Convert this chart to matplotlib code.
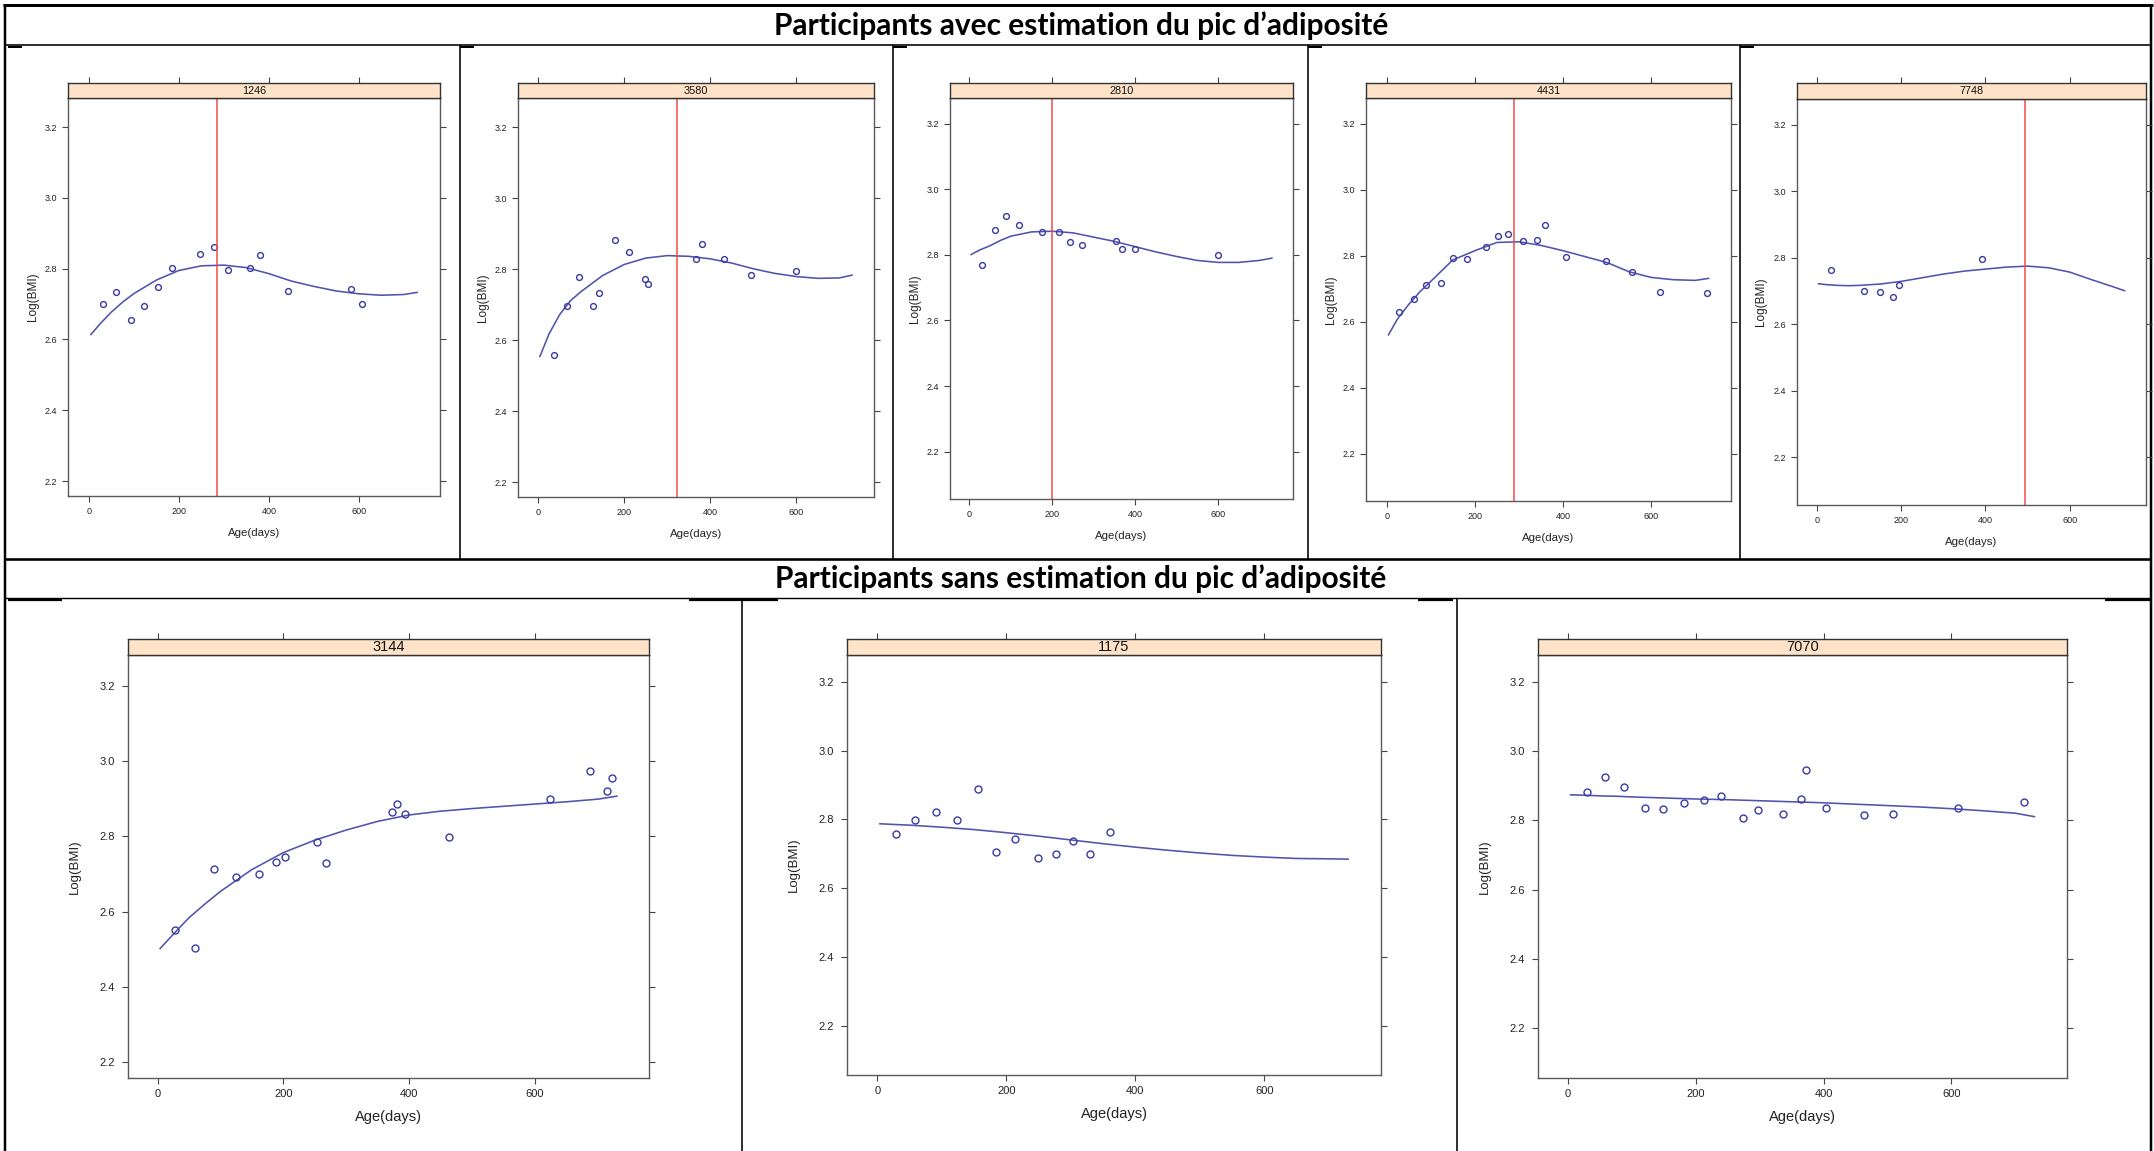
import matplotlib
matplotlib.use("Agg")
import matplotlib.pyplot as plt
from matplotlib.lines import Line2D

W, H, DPI = 2154, 1151, 100

# --- data -------------------------------------------------------------
title_top = "Participants avec estimation du pic d\u2019adiposité"
title_bottom = "Participants sans estimation du pic d\u2019adiposité"

ids = ["1246", "3580", "2810", "4431", "7748", "3144", "1175", "7070"]
# age at the estimated adiposity peak (top row only)
peak_age = {"1246": 285, "3580": 322, "2810": 199, "4431": 289, "7748": 495}

# ages at which the fitted curves were evaluated
fit_age = [4, 25, 50, 75, 100, 150, 200, 250, 300, 350, 400, 450, 500, 550, 600, 650, 700, 730]

age_1246 = [32, 60, 94, 122, 153, 185, 247, 278, 310, 359, 381, 443, 584, 608]
bmi_1246 = [2.700, 2.734, 2.654, 2.695, 2.749, 2.803, 2.842, 2.860, 2.795, 2.803, 2.840, 2.737, 2.744, 2.700]
fit_1246 = [2.614, 2.645, 2.678, 2.706, 2.730, 2.768, 2.795, 2.808, 2.810, 2.803, 2.786, 2.765,
            2.750, 2.737, 2.729, 2.725, 2.727, 2.733]

age_3580 = [37, 66, 96, 128, 142, 178, 212, 248, 256, 366, 382, 432, 495, 599]
bmi_3580 = [2.557, 2.697, 2.777, 2.696, 2.732, 2.883, 2.849, 2.772, 2.758, 2.829, 2.870, 2.828, 2.784, 2.795]
fit_3580 = [2.554, 2.617, 2.672, 2.711, 2.737, 2.782, 2.813, 2.831, 2.838, 2.836, 2.829, 2.817,
            2.801, 2.788, 2.779, 2.774, 2.775, 2.783]

age_2810 = [30, 61, 88, 120, 176, 216, 243, 271, 353, 368, 399, 600]
bmi_2810 = [2.768, 2.876, 2.918, 2.890, 2.871, 2.871, 2.840, 2.831, 2.841, 2.819, 2.819, 2.799]
fit_2810 = [2.801, 2.815, 2.828, 2.844, 2.857, 2.870, 2.872, 2.867, 2.854, 2.841, 2.825, 2.809,
            2.795, 2.783, 2.777, 2.777, 2.783, 2.790]

age_4431 = [28, 62, 89, 123, 151, 182, 225, 253, 275, 309, 341, 359, 407, 497, 556, 621, 727]
bmi_4431 = [2.630, 2.668, 2.711, 2.717, 2.792, 2.789, 2.826, 2.859, 2.865, 2.844, 2.846, 2.894,
            2.797, 2.784, 2.749, 2.689, 2.686]
fit_4431 = [2.560, 2.609, 2.652, 2.690, 2.722, 2.787, 2.815, 2.840, 2.842, 2.831, 2.815, 2.797,
            2.779, 2.751, 2.734, 2.727, 2.725, 2.731]

age_7748 = [33, 112, 149, 181, 195, 392]
bmi_7748 = [2.762, 2.701, 2.697, 2.681, 2.717, 2.797]
fit_7748 = [2.722, 2.719, 2.717, 2.716, 2.717, 2.721, 2.729, 2.740, 2.751, 2.760, 2.766, 2.772,
            2.775, 2.770, 2.757, 2.735, 2.714, 2.701]

age_3144 = [28, 60, 90, 125, 161, 189, 202, 253, 268, 373, 380, 393, 463, 624, 687, 714, 722]
bmi_3144 = [2.550, 2.504, 2.713, 2.692, 2.701, 2.732, 2.746, 2.786, 2.729, 2.866, 2.887, 2.860,
            2.799, 2.900, 2.973, 2.921, 2.956]
fit_3144 = [2.502, 2.540, 2.584, 2.620, 2.654, 2.712, 2.757, 2.790, 2.817, 2.840, 2.857, 2.867,
            2.874, 2.880, 2.886, 2.892, 2.899, 2.907]

age_1175 = [29, 58, 91, 123, 156, 184, 214, 249, 277, 304, 330, 361]
bmi_1175 = [2.757, 2.798, 2.820, 2.797, 2.887, 2.706, 2.743, 2.686, 2.698, 2.736, 2.700, 2.764]
fit_1175 = [2.787, 2.785, 2.783, 2.780, 2.777, 2.770, 2.761, 2.751, 2.740, 2.729, 2.719, 2.710,
            2.702, 2.695, 2.690, 2.686, 2.685, 2.684]

age_7070 = [29, 58, 87, 121, 149, 182, 213, 240, 274, 297, 336, 364, 373, 403, 463, 509, 611, 714]
bmi_7070 = [2.881, 2.927, 2.898, 2.835, 2.832, 2.850, 2.858, 2.870, 2.808, 2.831, 2.820, 2.863,
            2.946, 2.835, 2.816, 2.820, 2.835, 2.854]
fit_7070 = [2.874, 2.873, 2.871, 2.870, 2.868, 2.865, 2.862, 2.860, 2.857, 2.854, 2.851, 2.847,
            2.843, 2.839, 2.834, 2.828, 2.821, 2.811]

observed = {
    "1246": (age_1246, bmi_1246, fit_1246),
    "3580": (age_3580, bmi_3580, fit_3580),
    "2810": (age_2810, bmi_2810, fit_2810),
    "4431": (age_4431, bmi_4431, fit_4431),
    "7748": (age_7748, bmi_7748, fit_7748),
    "3144": (age_3144, bmi_3144, fit_3144),
    "1175": (age_1175, bmi_1175, fit_1175),
    "7070": (age_7070, bmi_7070, fit_7070),
}

x_ticks = [0, 200, 400, 600]
y_ticks = [2.2, 2.4, 2.6, 2.8, 3.0, 3.2]

# --- layout (pixels, origin top-left) -----------------------------------
# panel box x0, x1, y0 (top of plot area), y1, strip top, y-limits, row
ylim_a = (2.158, 3.282)
ylim_b = (2.056, 3.278)
panels = {
    "1246": (68, 440, 98, 496, 83, ylim_a, 1),
    "3580": (518, 874, 98, 497, 83, ylim_a, 1),
    "2810": (950, 1293, 98, 499, 83, ylim_b, 1),
    "4431": (1366, 1731, 98, 501, 83, ylim_b, 1),
    "7748": (1797, 2146, 99, 505, 83, ylim_b, 1),
    "3144": (128, 649, 655, 1078, 639, ylim_a, 2),
    "1175": (847, 1381, 655, 1075, 639, ylim_b, 2),
    "7070": (1538, 2067, 655, 1078, 639, ylim_b, 2),
}
row_style = {
    1: dict(tick=6.5, xlab=8.2, ylab=8.5, strip=7.8, ms=4.2, ylab_off=35.5, xlab_off=37, ypad=3.5),
    2: dict(tick=8.0, xlab=10.5, ylab=9.5, strip=10.5, ms=5.0, ylab_off=52.7, xlab_off=38.6, ypad=5.0),
}

POINT = "#3a3aa6"
CURVE = "#5252b0"
PEAK = "#f24a4a"
FRAME = "#5a5a5a"
STRIP = "#ffe3c8"

plt.rcParams["font.family"] = ["Liberation Sans", "DejaVu Sans"]

fig = plt.figure(figsize=(W / DPI, H / DPI), dpi=DPI)


def frac(x0, y0, x1, y1):
    return [x0 / W, 1 - y1 / H, (x1 - x0) / W, (y1 - y0) / H]


px = 72 / DPI  # points per pixel

# table grid and titles drawn on a full-figure overlay
grid = fig.add_axes([0, 0, 1, 1], zorder=0)
grid.set_xlim(0, W)
grid.set_ylim(H, 0)
grid.axis("off")


def hline(y, x0, x1, lw):
    grid.add_line(Line2D([x0, x1], [y, y], color="black", lw=lw * px, solid_capstyle="butt"))


def vline(x, y0, y1, lw):
    grid.add_line(Line2D([x, x], [y0, y1], color="black", lw=lw * px, solid_capstyle="butt"))


hline(5, 3, 2153, 3)
vline(5, 4, H, 2.5)
vline(2151, 4, H, 2.5)
hline(45, 5, 2151, 1.6)
hline(559, 5, 2151, 2.6)
hline(598, 5, 2151, 1.4)
for x in [459.5, 893, 1308, 1740]:
    vline(x, 45, 559, 1.6)
for x in [742, 1457]:
    vline(x, 598, H, 1.6)
# heavier stubs where cell borders meet the header rules
for x in [8, 459.5, 893, 1308, 1740]:
    hline(47, x, x + 14, 2)
for x0, x1 in [(8, 62), (689, 778), (1418, 1453), (2105, 2151)]:
    hline(600, x0, x1, 2.2)

title_font = dict(ha="center", va="center", fontsize=21.5, fontweight="bold",
                  family=["Lato", "DejaVu Sans"])
grid.text(1081, 26, title_top, **title_font)
grid.text(1081, 579, title_bottom, **title_font)

for pid in ids:
    x0, x1, y0, y1, s0, ylim, row = panels[pid]
    st = row_style[row]
    ages, bmi, fit = observed[pid]

    ax = fig.add_axes(frac(x0, y0, x1, y1), zorder=2)
    ax.plot(fit_age, fit, color=CURVE, lw=1.15)
    ax.plot(ages, bmi, "o", mfc="none", mec=POINT, mew=1.0, ms=st["ms"])
    if pid in peak_age:
        ax.axvline(peak_age[pid], color=PEAK, lw=1.1)

    ax.set_xlim(-47, 781)
    ax.set_ylim(*ylim)
    ax.set_xticks(x_ticks)
    ax.set_yticks(y_ticks)
    ax.set_yticklabels([f"{v:.1f}" for v in y_ticks])
    for sp in ax.spines.values():
        sp.set_color(FRAME)
        sp.set_linewidth(1.0)
    ax.tick_params(direction="out", length=4.3, width=0.8, color="#444444",
                   labelsize=st["tick"], labelcolor="#222222", pad=3.5)
    ax.tick_params(axis="y", right=True, pad=st["ypad"])
    ax.set_xlabel("Age(days)", fontsize=st["xlab"], color="#222222", va="center")
    ax.set_ylabel("Log(BMI)", fontsize=st["ylab"], color="#222222", va="center")
    ax.xaxis.set_label_coords(0.5, -st["xlab_off"] / (y1 - y0))
    ax.yaxis.set_label_coords(-st["ylab_off"] / (x1 - x0), 0.5)

    sx = fig.add_axes(frac(x0, s0, x1, y0), zorder=3)
    sx.set_facecolor(STRIP)
    sx.set_xlim(-47, 781)
    sx.set_xticks(x_ticks)
    sx.set_yticks([])
    sx.tick_params(axis="x", top=True, bottom=False, labeltop=False, labelbottom=False,
                   direction="out", length=4.3, width=0.8, color="#444444")
    for sp in sx.spines.values():
        sp.set_color("#333333")
        sp.set_linewidth(1.0)
    sx.text(0.5, 0.5, pid, transform=sx.transAxes, ha="center", va="center",
            fontsize=st["strip"], color="#111111")

fig.savefig("out.png", dpi=DPI, facecolor="white")
